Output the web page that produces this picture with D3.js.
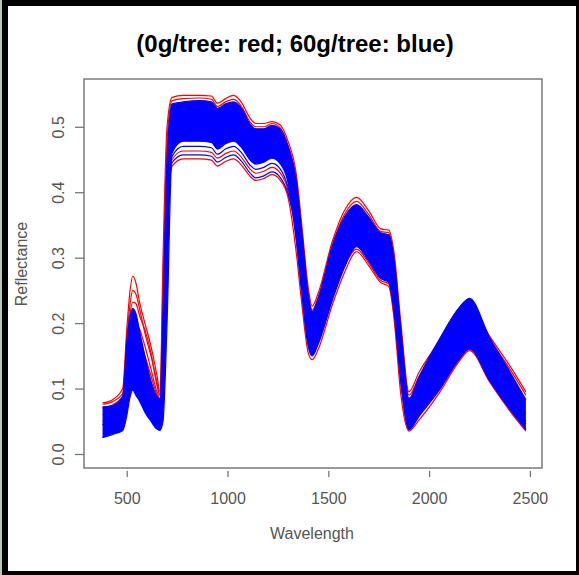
<!DOCTYPE html>
<html>
<head>
<meta charset="utf-8">
<script src="https://cdn.jsdelivr.net/npm/d3@7"></script>
<style>
  html, body { margin: 0; padding: 0; background: #fff; }
  svg { display: block; }
</style>
</head>
<body>
<div id="chart"></div>
<script>
// knots of the spectra (nm)
const wavelengths = [380, 430, 480, 500, 515, 530, 545, 565, 590, 620, 650, 665, 680, 700, 725,
  780, 860, 920, 950, 990, 1030, 1070, 1110, 1140, 1180, 1220, 1260, 1300, 1340, 1370,
  1400, 1420, 1450, 1520, 1580, 1640, 1700, 1760, 1800, 1825, 1860, 1900, 1950, 2050,
  2150, 2200, 2300, 2400, 2480];

// 60g/tree (blue): envelope of the bulk plus two outlying spectra
const blueHigh = [0.072, 0.074, 0.088, 0.170, 0.208, 0.222, 0.215, 0.186, 0.150, 0.112, 0.088, 0.084, 0.220, 0.450, 0.535,
  0.538, 0.540, 0.538, 0.528, 0.535, 0.538, 0.528, 0.505, 0.497, 0.497, 0.502, 0.497, 0.470, 0.420, 0.335,
  0.245, 0.218, 0.238, 0.318, 0.362, 0.381, 0.362, 0.338, 0.335, 0.300, 0.190, 0.085, 0.118, 0.175,
  0.224, 0.238, 0.178, 0.126, 0.083];
const blueLow = [0.025, 0.030, 0.036, 0.058, 0.085, 0.098, 0.090, 0.080, 0.064, 0.050, 0.038, 0.036, 0.050, 0.200, 0.460,
  0.478, 0.478, 0.476, 0.466, 0.474, 0.478, 0.468, 0.450, 0.443, 0.446, 0.452, 0.444, 0.415, 0.330, 0.240,
  0.165, 0.150, 0.168, 0.235, 0.285, 0.317, 0.295, 0.268, 0.262, 0.220, 0.110, 0.037, 0.058, 0.098,
  0.145, 0.161, 0.112, 0.068, 0.037];
const blue1 = [0.050, 0.055, 0.062, 0.100, 0.140, 0.160, 0.150, 0.130, 0.100, 0.075, 0.060, 0.058, 0.120, 0.350, 0.455,
  0.470, 0.470, 0.468, 0.458, 0.466, 0.470, 0.460, 0.442, 0.435, 0.438, 0.444, 0.436, 0.408, 0.350, 0.270,
  0.190, 0.170, 0.190, 0.260, 0.310, 0.335, 0.315, 0.290, 0.285, 0.250, 0.140, 0.050, 0.080, 0.125,
  0.170, 0.180, 0.135, 0.090, 0.050];
const blue2 = [0.045, 0.050, 0.058, 0.095, 0.130, 0.150, 0.142, 0.122, 0.095, 0.070, 0.055, 0.052, 0.110, 0.330, 0.445,
  0.457, 0.457, 0.455, 0.446, 0.453, 0.457, 0.447, 0.430, 0.422, 0.425, 0.431, 0.423, 0.398, 0.340, 0.260,
  0.180, 0.162, 0.182, 0.250, 0.300, 0.326, 0.306, 0.282, 0.277, 0.240, 0.130, 0.045, 0.072, 0.115,
  0.162, 0.172, 0.128, 0.084, 0.046];

// 0g/tree (red): spectra from highest to lowest
const red1 = [0.078, 0.083, 0.100, 0.190, 0.245, 0.272, 0.262, 0.230, 0.200, 0.165, 0.120, 0.095, 0.300, 0.500, 0.545,
  0.548, 0.548, 0.547, 0.536, 0.543, 0.548, 0.537, 0.514, 0.505, 0.505, 0.508, 0.503, 0.478, 0.430, 0.345,
  0.255, 0.226, 0.246, 0.325, 0.372, 0.392, 0.372, 0.344, 0.342, 0.310, 0.200, 0.095, 0.125, 0.172,
  0.218, 0.230, 0.180, 0.135, 0.095];
const red2 = [0.076, 0.080, 0.092, 0.175, 0.225, 0.250, 0.245, 0.220, 0.185, 0.150, 0.110, 0.090, 0.260, 0.480, 0.540,
  0.543, 0.544, 0.542, 0.531, 0.538, 0.542, 0.531, 0.508, 0.500, 0.500, 0.505, 0.499, 0.472, 0.422, 0.335,
  0.245, 0.220, 0.240, 0.320, 0.366, 0.386, 0.366, 0.340, 0.338, 0.300, 0.190, 0.090, 0.118, 0.168,
  0.212, 0.224, 0.176, 0.130, 0.090];
const red3 = [0.070, 0.075, 0.088, 0.160, 0.210, 0.232, 0.230, 0.210, 0.190, 0.155, 0.105, 0.090, 0.220, 0.450, 0.520,
  0.505, 0.506, 0.505, 0.495, 0.502, 0.505, 0.495, 0.475, 0.468, 0.470, 0.476, 0.470, 0.445, 0.380, 0.290,
  0.205, 0.185, 0.205, 0.280, 0.325, 0.350, 0.330, 0.305, 0.300, 0.260, 0.150, 0.060, 0.090, 0.135,
  0.185, 0.200, 0.145, 0.100, 0.062];
const red4 = [0.060, 0.065, 0.078, 0.140, 0.185, 0.205, 0.200, 0.190, 0.165, 0.130, 0.095, 0.085, 0.180, 0.400, 0.450,
  0.463, 0.463, 0.461, 0.452, 0.459, 0.463, 0.453, 0.436, 0.429, 0.432, 0.438, 0.430, 0.403, 0.330, 0.245,
  0.170, 0.155, 0.172, 0.240, 0.287, 0.313, 0.292, 0.265, 0.260, 0.215, 0.105, 0.038, 0.058, 0.097,
  0.145, 0.160, 0.114, 0.070, 0.038];
const red5 = [0.045, 0.050, 0.060, 0.120, 0.160, 0.180, 0.185, 0.175, 0.150, 0.120, 0.090, 0.082, 0.150, 0.360, 0.440,
  0.451, 0.451, 0.449, 0.440, 0.447, 0.451, 0.441, 0.425, 0.418, 0.421, 0.427, 0.419, 0.392, 0.310, 0.225,
  0.155, 0.144, 0.160, 0.228, 0.277, 0.309, 0.288, 0.262, 0.256, 0.210, 0.090, 0.035, 0.052, 0.093,
  0.142, 0.158, 0.110, 0.066, 0.035];

const xTicks = [500, 1000, 1500, 2000, 2500];
const yTicks = [0.0, 0.1, 0.2, 0.3, 0.4, 0.5];

const width = 579, height = 575;
const svg = d3.select("#chart").append("svg")
  .attr("width", width).attr("height", height);

// frame
svg.append("rect").attr("width", width).attr("height", height).attr("fill", "#000");
svg.append("rect").attr("width", 2).attr("height", height).attr("fill", "#b9c6b6");
svg.append("rect").attr("x", 8).attr("y", 6).attr("width", 568).attr("height", 565).attr("fill", "#fff");

const x = d3.scaleLinear().domain([288, 2560]).range([84, 542]);
const y = d3.scaleLinear().domain([-0.0214, 0.573]).range([468, 79]);

const line = d3.line()
  .x((d, i) => x(wavelengths[i]))
  .y(d => y(d))
  .curve(d3.curveMonotoneX);

const area = d3.area()
  .x(d => x(d))
  .y0((d, i) => y(blueLow[i]))
  .y1((d, i) => y(blueHigh[i]))
  .curve(d3.curveMonotoneX);

const g = svg.append("g");

// red first, blue drawn over it
[red5, red4, red3, red2, red1].forEach(function(s) {
  g.append("path").attr("d", line(s))
    .attr("fill", "none").attr("stroke", "#ff0000").attr("stroke-width", 1.2);
});

g.append("path").attr("d", area(wavelengths)).attr("fill", "#0000ff");
[blueLow, blueHigh, blue1, blue2].forEach(function(s) {
  g.append("path").attr("d", line(s))
    .attr("fill", "none").attr("stroke", "#0000ff").attr("stroke-width", 1.2);
});

// box
svg.append("rect").attr("x", 84).attr("y", 79).attr("width", 458).attr("height", 389)
  .attr("fill", "none").attr("stroke", "#7a7a7a").attr("stroke-width", 1.5);

const font = "'Liberation Sans', Arial, sans-serif";

// x axis
const xAxis = svg.append("g")
  .attr("transform", "translate(0,471)")
  .call(d3.axisBottom(x).tickValues(xTicks).tickSize(6).tickPadding(4).tickFormat(d3.format("d")));
xAxis.select(".domain").remove();
xAxis.selectAll(".tick line").attr("stroke", "#777").attr("stroke-width", 1.3);
xAxis.selectAll(".tick text")
  .attr("y", 0).attr("dy", 0)
  .attr("transform", "translate(0,33)")
  .attr("fill", "#555").style("font", "16px " + font);

// y axis
const yAxis = svg.append("g")
  .attr("transform", "translate(84,0)")
  .call(d3.axisLeft(y).tickValues(yTicks).tickSize(9).tickFormat(d3.format(".1f")));
yAxis.select(".domain").remove();
yAxis.selectAll(".tick line").attr("stroke", "#777").attr("stroke-width", 1.3);
yAxis.selectAll(".tick text")
  .attr("x", 0).attr("dy", 0)
  .attr("text-anchor", "middle")
  .attr("transform", "translate(-20,0) rotate(-90)")
  .attr("fill", "#555").style("font", "16px " + font);

// labels
svg.append("text").attr("x", 312).attr("y", 539).attr("text-anchor", "middle")
  .attr("fill", "#555").style("font", "16px " + font).text("Wavelength");
svg.append("text").attr("transform", "translate(27,264) rotate(-90)").attr("text-anchor", "middle")
  .attr("fill", "#555").style("font", "16px " + font).text("Reflectance");
svg.append("text").attr("x", 295).attr("y", 52).attr("text-anchor", "middle")
  .attr("fill", "#000").style("font", "bold 24px " + font).text("(0g/tree: red; 60g/tree: blue)");
</script>
</body>
</html>
